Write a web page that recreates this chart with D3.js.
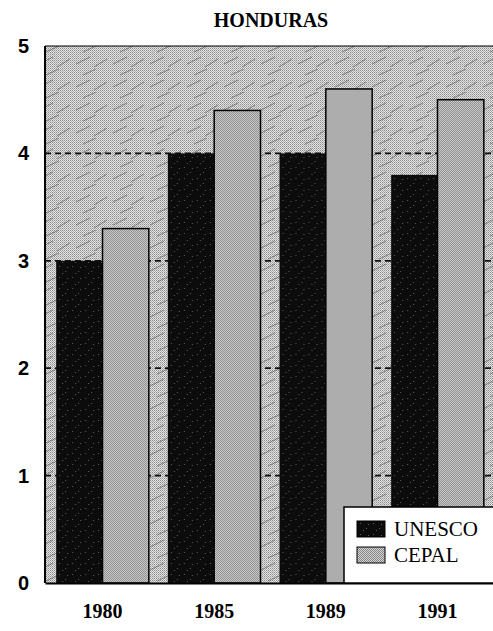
<!DOCTYPE html>
<html>
<head>
<meta charset="utf-8">
<script src="https://cdn.jsdelivr.net/npm/d3@7"></script>
<style>
  body { margin: 0; background: #fff; }
  svg { display: block; }
</style>
</head>
<body>
<div id="chart"></div>
<script>
const years = ["1980", "1985", "1989", "1991"];
const seriesNames = ["UNESCO", "CEPAL"];
const unescoValues = [3.0, 4.0, 4.0, 3.8];
const cepalValues = [3.3, 4.4, 4.6, 4.5];
const yTicks = [0, 1, 2, 3, 4, 5];
const gridTicks = [1, 2, 3, 4];

/* svg setup */
const W = 493, H = 631;
const plot = { left: 45, right: 495, top: 46, bottom: 583 };

const svg = d3.select("#chart").append("svg")
  .attr("width", W).attr("height", H);

const defs = svg.append("defs");

// halftone background of the plot
const bgPat = defs.append("pattern")
  .attr("id", "bgPat").attr("patternUnits", "userSpaceOnUse")
  .attr("width", 2).attr("height", 2);
bgPat.append("rect").attr("width", 2).attr("height", 2).attr("fill", "#e2e2e2");
bgPat.append("rect").attr("width", 1).attr("height", 1).attr("fill", "#8e8e8e");
bgPat.append("rect").attr("x", 1).attr("y", 1).attr("width", 1).attr("height", 1).attr("fill", "#b0b0b0");

// diagonal streaks on top of the halftone
const streak = defs.append("pattern")
  .attr("id", "streak").attr("patternUnits", "userSpaceOnUse")
  .attr("width", 37).attr("height", 23);
streak.append("path").attr("d", "M2,18 L16,11 M20,21 L33,13 M9,6 L22,0")
  .attr("stroke", "#5a5a5a").attr("stroke-width", 0.9).attr("fill", "none").attr("opacity", 0.75);

// checker fill for CEPAL bars
const cepPat = defs.append("pattern")
  .attr("id", "cepPat").attr("patternUnits", "userSpaceOnUse")
  .attr("width", 2).attr("height", 2);
cepPat.append("rect").attr("width", 2).attr("height", 2).attr("fill", "#d4d4d4");
cepPat.append("rect").attr("width", 1).attr("height", 1).attr("fill", "#868686");
cepPat.append("rect").attr("x", 1).attr("y", 1).attr("width", 1).attr("height", 1).attr("fill", "#868686");

// dark noisy fill for UNESCO bars
const uniPat = defs.append("pattern")
  .attr("id", "uniPat").attr("patternUnits", "userSpaceOnUse")
  .attr("width", 13).attr("height", 11);
uniPat.append("rect").attr("width", 13).attr("height", 11).attr("fill", "#0c0c0c");
uniPat.append("path").attr("d", "M3,2h1v1h-1z M9,7h1v1h-1z M6,9h1v1h-1z M11,3h1v1h-1z")
  .attr("fill", "#5a5a5a");

/* scales */
const y = d3.scaleLinear().domain([0, 5]).range([plot.bottom, plot.top]);
const x0 = d3.scaleBand().domain(years).range([plot.left, plot.right])
  .paddingInner(0.17).paddingOuter(0.1);
const x1 = d3.scaleBand().domain(seriesNames).range([0, x0.bandwidth()]).padding(0);

/* plot background */
svg.append("rect")
  .attr("x", plot.left).attr("y", plot.top)
  .attr("width", plot.right - plot.left).attr("height", plot.bottom - plot.top)
  .attr("fill", "url(#bgPat)");
svg.append("rect")
  .attr("x", plot.left).attr("y", plot.top)
  .attr("width", plot.right - plot.left).attr("height", plot.bottom - plot.top)
  .attr("fill", "url(#streak)");

/* dashed gridlines (behind bars) */
svg.append("g").selectAll("line").data(gridTicks).join("line")
  .attr("x1", plot.left).attr("x2", plot.right)
  .attr("y1", (d) => y(d)).attr("y2", (d) => y(d))
  .attr("stroke", "#111").attr("stroke-width", 1.8)
  .attr("stroke-dasharray", "6,4");

/* bars */
const rows = years.map((yr, i) => ({
  year: yr,
  vals: [
    { key: "UNESCO", value: unescoValues[i] },
    { key: "CEPAL", value: cepalValues[i] }
  ]
}));

const groups = svg.append("g").selectAll("g").data(rows).join("g")
  .attr("transform", (d) => `translate(${x0(d.year)},0)`);

groups.selectAll("rect").data((d) => d.vals).join("rect")
  .attr("x", (d) => x1(d.key))
  .attr("y", (d) => y(d.value))
  .attr("width", x1.bandwidth())
  .attr("height", (d) => y(0) - y(d.value))
  .attr("fill", (d) => d.key === "UNESCO" ? "url(#uniPat)" : "url(#cepPat)")
  .attr("stroke", "#000")
  .attr("stroke-width", (d) => d.key === "UNESCO" ? 0 : 1.5);

/* frame */
svg.append("line")
  .attr("x1", plot.left).attr("x2", plot.left)
  .attr("y1", plot.top).attr("y2", plot.bottom)
  .attr("stroke", "#000").attr("stroke-width", 2);
svg.append("line")
  .attr("x1", plot.left).attr("x2", plot.right)
  .attr("y1", plot.top).attr("y2", plot.top)
  .attr("stroke", "#000").attr("stroke-width", 1);

/* y axis labels */
const yAxis = svg.append("g")
  .attr("transform", `translate(${plot.left},0)`)
  .call(d3.axisLeft(y).tickValues(yTicks).tickSize(0).tickPadding(16).tickFormat(d3.format("d")));
yAxis.select(".domain").remove();
yAxis.selectAll("text")
  .style("font-family", "'Liberation Sans', Arial, sans-serif")
  .style("font-weight", "bold")
  .style("font-size", "20px")
  .attr("fill", "#000");

/* x axis labels */
const xAxis = svg.append("g")
  .attr("transform", `translate(0,${plot.bottom})`)
  .call(d3.axisBottom(x0).tickSize(0).tickPadding(21));
xAxis.select(".domain")
  .attr("stroke", "#000").attr("stroke-width", 2);
xAxis.selectAll("text")
  .style("font-family", "'Liberation Serif', 'Times New Roman', serif")
  .style("font-weight", "bold")
  .style("font-size", "20px")
  .attr("fill", "#000");

/* legend */
const legend = svg.append("g").attr("transform", "translate(344,507)");
legend.append("rect")
  .attr("x", 0).attr("y", 0).attr("width", 152).attr("height", 76)
  .attr("fill", "#fff").attr("stroke", "#000").attr("stroke-width", 1.5);
const legItems = legend.selectAll("g").data(seriesNames).join("g")
  .attr("transform", (d, i) => `translate(13,${14 + i * 26})`);
legItems.append("rect")
  .attr("width", 28).attr("height", 16)
  .attr("fill", (d) => d === "UNESCO" ? "url(#uniPat)" : "url(#cepPat)")
  .attr("stroke", "#000").attr("stroke-width", 1);
legItems.append("text")
  .attr("x", 37).attr("y", 15)
  .style("font-family", "'Liberation Serif', 'Times New Roman', serif")
  .style("font-size", "21px")
  .attr("fill", "#000")
  .text((d) => d);

/* title */
svg.append("text")
  .attr("x", 271).attr("y", 27)
  .attr("text-anchor", "middle")
  .style("font-family", "'Liberation Serif', 'Times New Roman', serif")
  .style("font-weight", "bold")
  .style("font-size", "20px")
  .text("HONDURAS");
</script>
</body>
</html>
